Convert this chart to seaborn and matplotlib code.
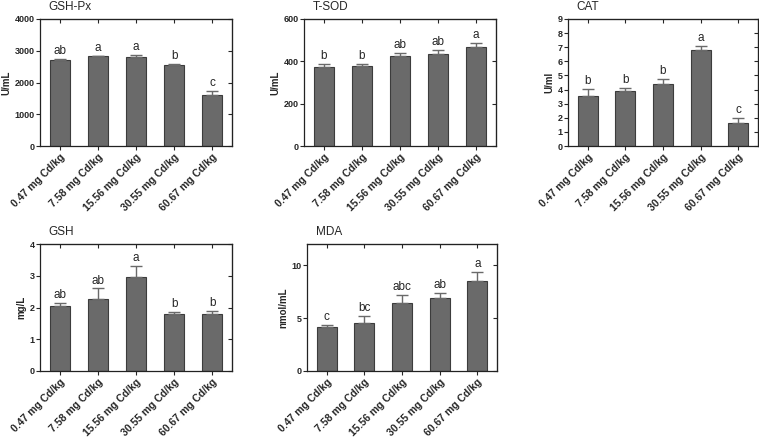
import matplotlib
matplotlib.use("Agg")
import matplotlib.pyplot as plt
import seaborn as sns

sns.set_style("ticks")
plt.rcParams["font.family"] = ["Liberation Sans", "DejaVu Sans"]

groups = ["0.47 mg Cd/kg", "7.58 mg Cd/kg", "15.56 mg Cd/kg",
          "30.55 mg Cd/kg", "60.67 mg Cd/kg"]

gshpx_mean = [2723, 2829, 2807, 2543, 1594]
gshpx_err = [17, 21, 53, 37, 137]
gshpx_letters = ["ab", "a", "a", "b", "c"]

tsod_mean = [375, 376, 427, 436, 467]
tsod_err = [11, 13, 11, 19, 19]
tsod_letters = ["b", "b", "ab", "ab", "a"]

cat_mean = [3.56, 3.90, 4.37, 6.77, 1.66]
cat_err = [0.50, 0.19, 0.40, 0.31, 0.31]
cat_letters = ["b", "b", "b", "a", "c"]

gsh_mean = [2.06, 2.28, 2.96, 1.80, 1.80]
gsh_err = [0.09, 0.32, 0.34, 0.06, 0.09]
gsh_letters = ["ab", "ab", "a", "b", "b"]

mda_mean = [4.15, 4.56, 6.46, 6.93, 8.54]
mda_err = [0.19, 0.63, 0.69, 0.48, 0.86]
mda_letters = ["c", "bc", "abc", "ab", "a"]

BAR = "#6a6a6a"
EDGE = "#3c3c3c"

panels = [
    ("GSH-Px", "U/mL", gshpx_mean, gshpx_err, gshpx_letters, (0, 4000), [0, 1000, 2000, 3000, 4000],
     [40, 19, 192, 127]),
    ("T-SOD", "U/mL", tsod_mean, tsod_err, tsod_letters, (0, 600), [0, 200, 400, 600],
     [304, 19, 192, 127]),
    ("CAT", "U/ml", cat_mean, cat_err, cat_letters, (0, 9), list(range(10)),
     [568, 19, 190, 127]),
    ("GSH", "mg/L", gsh_mean, gsh_err, gsh_letters, (0, 4), [0, 1, 2, 3, 4],
     [40, 244, 192, 127]),
    ("MDA", "nmol/mL", mda_mean, mda_err, mda_letters, (0, 12), [0, 5, 10],
     [307, 244, 190, 127]),
]

W, H = 759, 437
fig = plt.figure(figsize=(W / 100, H / 100), dpi=100)

for title, ylab, mean, err, letters, ylim, yticks, box in panels:
    l, t, w, h = box
    ax = fig.add_axes([l / W, 1 - (t + h) / H, w / W, h / H])
    sns.barplot(x=groups, y=mean, color=BAR, edgecolor=EDGE, linewidth=0.8,
                width=0.53, saturation=1, ax=ax)
    ax.errorbar(range(len(groups)), mean, yerr=[[0] * len(err), err], fmt="none",
                ecolor=BAR, elinewidth=1, capsize=4, capthick=1)
    span = ylim[1] - ylim[0]
    for i, (m, e, s) in enumerate(zip(mean, err, letters)):
        ax.text(i, m + e + span * 0.015, s, ha="center", va="bottom", fontsize=8.5)
    ax.set_xlim(-0.52, 4.52)
    ax.set_ylim(*ylim)
    ax.set_yticks(yticks)
    ax.set_ylabel(ylab, fontsize=7, fontweight="bold", labelpad=2)
    ax.set_xticks(range(len(groups)))
    ax.set_xticklabels(groups, rotation=45, ha="right", rotation_mode="anchor",
                       fontsize=7.5, fontweight="bold")
    for lbl in ax.get_yticklabels():
        lbl.set_fontweight("bold")
    ax.tick_params(axis="y", labelsize=6.5, length=3, width=0.8, pad=1)
    ax.tick_params(axis="x", length=3, width=0.8, pad=1)
    for sp in ax.spines.values():
        sp.set_visible(True)
        sp.set_linewidth(0.9)
        sp.set_color("#222222")
    sec_y = ax.secondary_yaxis("right")
    sec_y.set_yticks(yticks)
    sec_y.tick_params(direction="in", length=3, width=0.8, labelright=False)
    sec_x = ax.secondary_xaxis("top")
    sec_x.set_xticks(range(len(groups)))
    sec_x.tick_params(direction="in", length=3, width=0.8, labeltop=False)
    ax.text(0.045, 1.095, title, transform=ax.transAxes, fontsize=8.5,
            ha="left", va="center")

fig.savefig("out.png", dpi=100)
